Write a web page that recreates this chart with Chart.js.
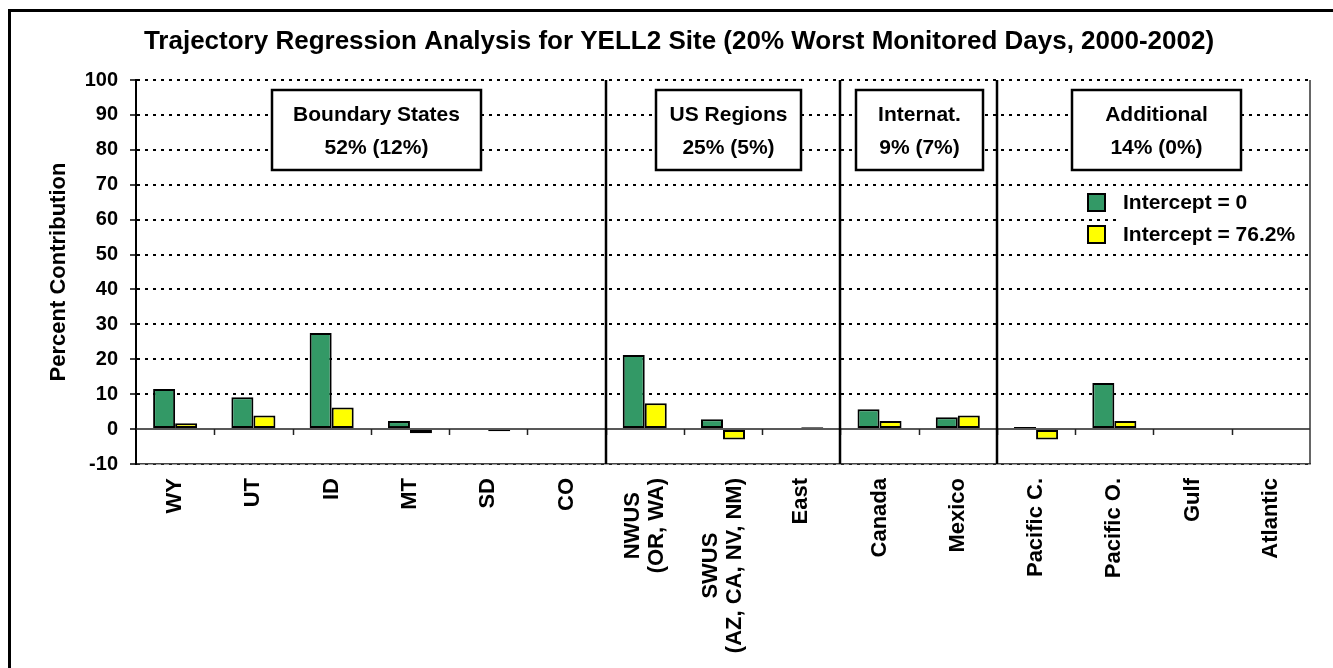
<!DOCTYPE html>
<html>
<head>
<meta charset="utf-8">
<script src="https://cdn.jsdelivr.net/npm/chart.js@4.4.1/dist/chart.umd.min.js"></script>
<style>
  html, body { margin: 0; padding: 0; background: #ffffff; }
  canvas { display: block; }
</style>
</head>
<body>
<canvas id="c" width="1333" height="668"></canvas>
<script>
// ---- data ----
const categories = [
  ['WY'], ['UT'], ['ID'], ['MT'], ['SD'], ['CO'],
  ['NWUS', '(OR, WA)'], ['SWUS', '(AZ, CA, NV, NM)'], ['East'],
  ['Canada'], ['Mexico'],
  ['Pacific C.'], ['Pacific O.'], ['Gulf'], ['Atlantic']
];
const seriesNames = ['Intercept = 0', 'Intercept = 76.2%'];
const interceptZero = [11.5, 9.1, 27.5, 2.3, 0, 0, 21.2, 2.8, 0, 5.7, 3.4, 0.6, 13.2, 0, 0];
const interceptFull = [1.7, 3.9, 6.2, -1.2, -0.6, 0, 7.4, -3.0, 0.5, 2.3, 3.9, -3.0, 2.3, 0, 0];
const yMin = -10, yMax = 100, yStep = 10;
const groupTitles = ['Boundary States', 'US Regions', 'Internat.', 'Additional'];
const groupShares = ['52% (12%)', '25% (5%)', '9% (7%)', '14% (0%)'];
const groupLastIndex = [5, 8, 10];
const chartTitle = 'Trajectory Regression Analysis for YELL2 Site (20% Worst Monitored Days, 2000-2002)';
const yAxisTitle = 'Percent Contribution';

const FONT = '"Liberation Sans", Arial, sans-serif';
const GREEN = '#339966';
const YELLOW = '#FFFF00';

const decor = {
  id: 'decor',
  afterDraw(chart) {
    const ctx = chart.ctx;
    const a = chart.chartArea;
    const xs = chart.scales.x;
    const ys = chart.scales.y;
    const step = xs.getPixelForValue(1) - xs.getPixelForValue(0);
    ctx.save();

    // zero line with category boundary ticks
    const y0 = ys.getPixelForValue(0);
    ctx.strokeStyle = '#222';
    ctx.lineWidth = 1.5;
    ctx.setLineDash([]);
    ctx.beginPath();
    ctx.moveTo(a.left, y0); ctx.lineTo(a.right, y0);
    for (let i = 0; i < categories.length - 1; i++) {
      const bx = Math.round(xs.getPixelForValue(i) + step / 2) + 0.5;
      ctx.moveTo(bx, y0); ctx.lineTo(bx, y0 + 6);
    }
    ctx.stroke();

    // right border of plot
    ctx.lineWidth = 1.5;
    ctx.strokeStyle = '#333';
    ctx.beginPath();
    ctx.moveTo(a.right, a.top); ctx.lineTo(a.right, a.bottom);
    ctx.stroke();

    // group separators
    ctx.lineWidth = 2.5;
    ctx.strokeStyle = '#000';
    ctx.beginPath();
    groupLastIndex.forEach(i => {
      const bx = Math.round(xs.getPixelForValue(i) + step / 2);
      ctx.moveTo(bx, a.top); ctx.lineTo(bx, a.bottom);
    });
    ctx.stroke();

    // group boxes
    const boxes = [
      [272, 481], [656, 801], [856, 983], [1072, 1241]
    ];
    const bTop = a.top + 10, bBot = a.top + 90;
    ctx.font = 'bold 21px ' + FONT;
    ctx.textAlign = 'center';
    ctx.textBaseline = 'middle';
    boxes.forEach((b, k) => {
      ctx.fillStyle = '#fff';
      ctx.fillRect(b[0], bTop, b[1] - b[0], bBot - bTop);
      ctx.lineWidth = 2.5;
      ctx.strokeStyle = '#000';
      ctx.strokeRect(b[0], bTop, b[1] - b[0], bBot - bTop);
      ctx.fillStyle = '#000';
      const cx = (b[0] + b[1]) / 2;
      ctx.fillText(groupTitles[k], cx, bTop + 25);
      ctx.fillText(groupShares[k], cx, bTop + 58);
    });

    // legend
    ctx.fillStyle = '#fff';
    ctx.fillRect(1119, a.top + 108, a.right - 1121, 62);
    chart.data.datasets.forEach((ds, k) => {
      const ly = a.top + 114 + k * 32;
      ctx.fillStyle = ds.backgroundColor;
      ctx.fillRect(1088, ly, 17, 17);
      ctx.lineWidth = 2;
      ctx.strokeStyle = '#000';
      ctx.strokeRect(1088, ly, 17, 17);
      ctx.fillStyle = '#000';
      ctx.textAlign = 'left';
      ctx.textBaseline = 'middle';
      ctx.font = 'bold 21px ' + FONT;
      ctx.fillText(ds.label, 1123, ly + 9);
    });

    // x category labels (rotated, lines centred)
    ctx.font = 'bold 22px ' + FONT;
    ctx.fillStyle = '#000';
    const labTop = a.bottom + 14;
    const lh = 24;
    categories.forEach((lines, i) => {
      const px = xs.getPixelForValue(i);
      const maxW = Math.max(...lines.map(t => ctx.measureText(t).width));
      const n = lines.length;
      lines.forEach((t, j) => {
        const lx = px + (j - (n - 1) / 2) * lh;
        ctx.save();
        ctx.translate(lx, labTop + maxW / 2);
        ctx.rotate(-Math.PI / 2);
        ctx.textAlign = 'center';
        ctx.textBaseline = 'middle';
        ctx.fillText(t, 0, 0);
        ctx.restore();
      });
    });

    // title
    ctx.font = 'bold 26px ' + FONT;
    ctx.textAlign = 'center';
    ctx.textBaseline = 'middle';
    ctx.fillText(chartTitle, 679, 42);

    // outer frame (left and top)
    ctx.fillStyle = '#000';
    ctx.fillRect(8, 9, 3, 668);
    ctx.fillRect(8, 9, 1333, 3);

    ctx.restore();
  }
};

new Chart(document.getElementById('c'), {
  type: 'bar',
  data: {
    labels: categories,
    datasets: [
      { label: seriesNames[0], data: interceptZero, backgroundColor: GREEN, borderColor: '#000', borderWidth: 2, borderSkipped: false },
      { label: seriesNames[1], data: interceptFull, backgroundColor: YELLOW, borderColor: '#000', borderWidth: 2, borderSkipped: false }
    ]
  },
  options: {
    responsive: false,
    animation: false,
    devicePixelRatio: 1,
    layout: { padding: { left: 40, right: 23, top: 80, bottom: 0 } },
    datasets: { bar: { categoryPercentage: 0.5627, barPercentage: 1.0 } },
    plugins: {
      legend: { display: false },
      title: { display: false },
      tooltip: { enabled: false }
    },
    scales: {
      x: {
        grid: { display: false, drawTicks: false },
        border: { display: true, color: '#444', width: 1.5 },
        ticks: { display: false },
        afterFit(s) { s.height = 204; }
      },
      y: {
        min: yMin, max: yMax,
        ticks: {
          stepSize: yStep,
          color: '#000',
          font: { family: FONT, size: 20, weight: 'bold' },
          padding: 12
        },
        grid: {
          color: (c) => (c.tick && c.tick.value === 0) ? 'rgba(0,0,0,0)' : '#000',
          lineWidth: 2,
          tickLength: 6,
          tickColor: '#000',
          tickWidth: 1.5,
          tickBorderDash: []
        },
        border: {
          display: true, color: '#000', width: 2,
          dash: (c) => c.type === 'tick' ? [3, 5] : []
        },
        title: {
          display: true,
          text: yAxisTitle,
          color: '#000',
          font: { family: FONT, size: 22, weight: 'bold' },
          padding: { top: 6, bottom: 0 }
        },
        afterFit(s) { s.width = 96; }
      }
    }
  },
  plugins: [decor]
});
</script>
</body>
</html>
